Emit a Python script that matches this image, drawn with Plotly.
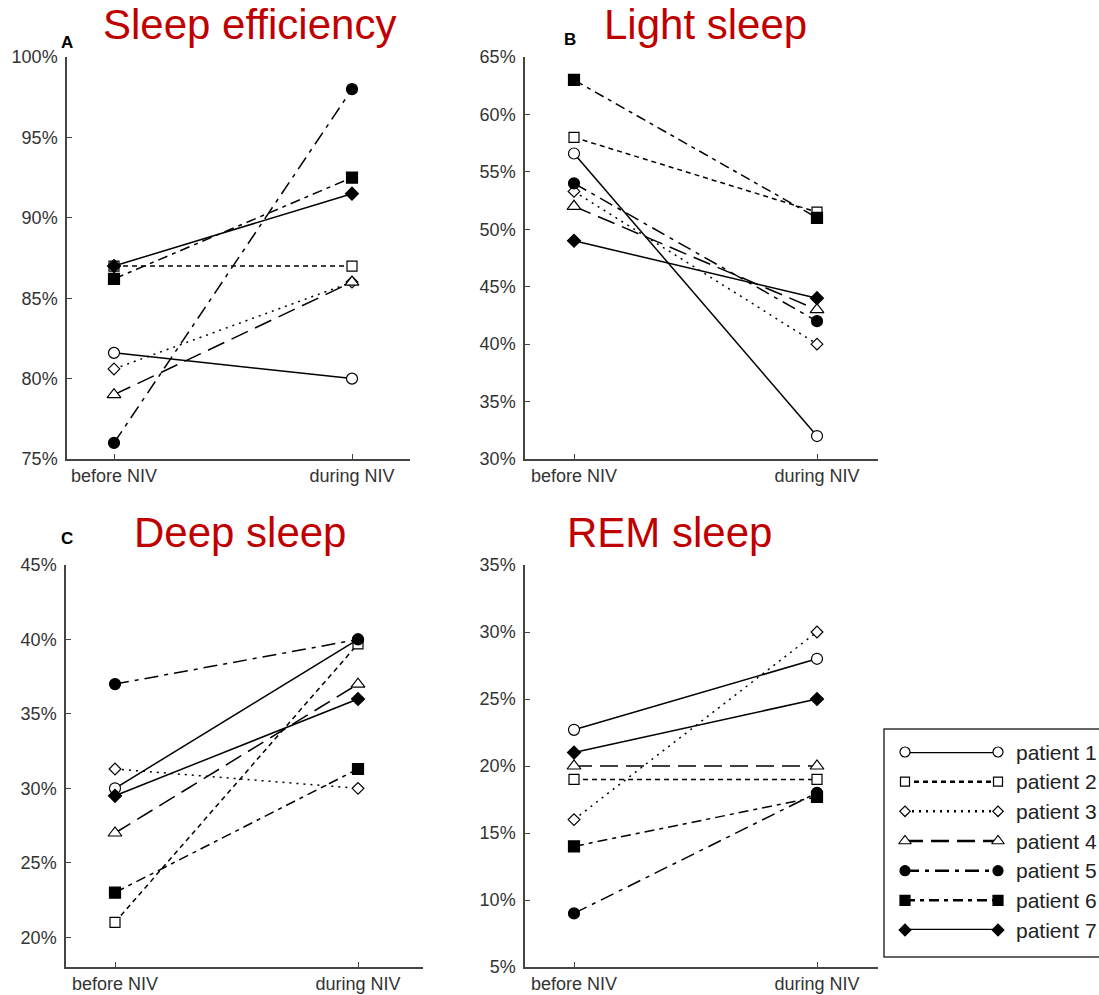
import plotly.graph_objects as go

# ---------------- data ----------------
categories = ["before NIV", "during NIV"]
patients = ["patient 1", "patient 2", "patient 3", "patient 4", "patient 5", "patient 6", "patient 7"]

efficiency_before = [81.6, 87.0, 80.6, 79.0, 76.0, 86.2, 87.0]
efficiency_during = [80.0, 87.0, 86.0, 86.0, 98.0, 92.5, 91.5]

light_before = [56.6, 58.0, 53.3, 52.0, 54.0, 63.0, 49.0]
light_during = [32.0, 51.5, 40.0, 43.0, 42.0, 51.0, 44.0]

deep_before = [30.0, 21.0, 31.3, 27.0, 37.0, 23.0, 29.5]
deep_during = [40.0, 39.7, 30.0, 37.0, 40.0, 31.3, 36.0]

rem_before = [22.7, 19.0, 16.0, 20.0, 9.0, 14.0, 21.0]
rem_during = [28.0, 19.0, 30.0, 20.0, 18.0, 17.7, 25.0]

panel_titles = ["Sleep efficiency", "Light sleep", "Deep sleep", "REM sleep"]
panel_letters = ["A", "B", "C", ""]

# ---------------- styles ----------------
symbols = ["circle", "square", "diamond", "triangle-up", "circle", "square", "diamond"]
fills = ["white", "white", "white", "white", "black", "black", "black"]
sizes = [11, 10, 9, 12, 11, 11, 10]
dashes = ["solid", "5px,4px", "2px,5px", "18px,8px", "14px,6px,4px,6px", "10px,5px,4px,5px", "solid"]

W, H = 1099, 995


def px(x):
    return x / W


def py(y):
    return 1 - y / H


fig = go.Figure()

panels = [
    (efficiency_before, efficiency_during, [75, 100], 5),
    (light_before, light_during, [30, 65], 5),
    (deep_before, deep_during, [18, 45], 5),
    (rem_before, rem_during, [5, 35], 5),
]

# pixel geometry of each panel: (axis left, axis right, before x, during x, top y, bottom y)
geom = [
    (67, 410, 114, 352, 57, 459),
    (525, 878, 574, 817, 57, 459),
    (66, 423, 115, 358, 565, 967),
    (525, 878, 574, 817, 565, 967),
]

for k, ((bef, dur, yr, dt), (xl, xr, xb, xd, yt, yb)) in enumerate(zip(panels, geom)):
    idx = "" if k == 0 else str(k + 1)
    for i, name in enumerate(patients):
        fig.add_trace(go.Scatter(
            x=[0, 1], y=[bef[i], dur[i]],
            mode="lines+markers",
            line=dict(color="black", width=1.5, dash=dashes[i]),
            marker=dict(symbol=symbols[i], size=sizes[i], color=fills[i],
                        line=dict(color="black", width=1.2)),
            xaxis="x" + idx, yaxis="y" + idx,
            showlegend=False, cliponaxis=False, name=name,
        ))
    unit = xd - xb
    xrange = [-(xb - xl) / unit, 1 + (xr - xd) / unit]
    ticks = list(range(yr[0] + (-yr[0]) % dt, yr[1] + 1, dt))
    axis_common = dict(showline=True, linecolor="#444", linewidth=1.5,
                       showgrid=False, zeroline=False, ticks="inside",
                       ticklen=5, tickcolor="#444", automargin=False,
                       tickfont=dict(family="Liberation Sans, Arial", size=18, color="#333"))
    fig.update_layout(**{
        "xaxis" + idx: dict(domain=[px(xl), px(xr)], range=xrange,
                            tickvals=[0, 1], ticktext=categories,
                            anchor="y" + idx, fixedrange=True, **axis_common),
        "yaxis" + idx: dict(domain=[py(yb), py(yt)], range=yr,
                            tickvals=ticks, ticktext=[f"{t}%" for t in ticks],
                            anchor="x" + idx, ticklabelstandoff=4, **axis_common),
    })

# titles and letters
title_pos = [(249, 25), (705, 25), (240, 532), (669, 532)]
letter_pos = [(67, 42), (570, 40), (67, 538), (0, 0)]
for t, (tx, ty), l, (lx, ly) in zip(panel_titles, title_pos, panel_letters, letter_pos):
    fig.add_annotation(text=t, x=px(tx), y=py(ty), xref="paper", yref="paper",
                       showarrow=False, xanchor="center", yanchor="middle",
                       font=dict(family="Liberation Sans, Arial", size=42, color="#C00000"))
    if l:
        fig.add_annotation(text="<b>" + l + "</b>", x=px(lx), y=py(ly), xref="paper", yref="paper",
                           showarrow=False, xanchor="center", yanchor="middle",
                           font=dict(family="Liberation Sans, Arial", size=17, color="black"))

# custom legend (marker at both ends of line)
for i, name in enumerate(patients):
    fig.add_trace(go.Scatter(
        x=[0, 1], y=[i + 1, i + 1], mode="lines+markers",
        line=dict(color="black", width=2.5, dash=dashes[i]),
        marker=dict(symbol=symbols[i], size=sizes[i] - 1, color=fills[i],
                    line=dict(color="black", width=1.2)),
        xaxis="x5", yaxis="y5", showlegend=False, cliponaxis=False, name=name,
    ))
    fig.add_annotation(text=name, x=1, y=i + 1, xref="x5", yref="y5",
                       showarrow=False, xanchor="left", yanchor="middle", xshift=16,
                       font=dict(family="Liberation Sans, Arial", size=21, color="#222"))

fig.update_layout(
    xaxis5=dict(domain=[px(905), px(998)], range=[0, 1], visible=False, anchor="y5",
                fixedrange=True, automargin=False),
    yaxis5=dict(domain=[py(930), py(752)], range=[7, 1], visible=False, anchor="x5",
                fixedrange=True, automargin=False),
)
fig.add_shape(type="rect", xref="paper", yref="paper",
              x0=px(884), x1=px(1120), y0=py(957), y1=py(729),
              line=dict(color="#333", width=1.5), fillcolor="rgba(0,0,0,0)")

fig.update_layout(width=W, height=H, margin=dict(l=0, r=0, t=0, b=0, autoexpand=False),
                  paper_bgcolor="white", plot_bgcolor="white", showlegend=False)

fig.write_html("out.html")
